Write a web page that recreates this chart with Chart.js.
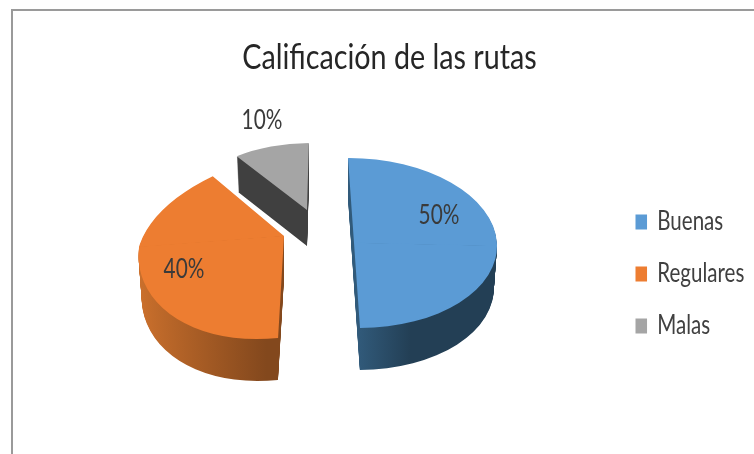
<!DOCTYPE html>
<html><head><meta charset="utf-8">
<style>
html,body{margin:0;padding:0;background:#fff;width:754px;height:454px;overflow:hidden}
#frame{position:absolute;left:11px;top:9px;width:743px;height:445px;border-left:2px solid #9a9a9a;border-top:2px solid #9a9a9a;box-sizing:border-box}
#wrap{position:absolute;left:0;top:0;width:754px;height:454px}
</style>
<script src="https://cdn.jsdelivr.net/npm/chart.js@4"></script>
</head><body>
<div id="frame"></div>
<div id="wrap"><canvas id="c" width="754" height="454"></canvas></div>
<script>
const titleText = "Calificación de las rutas";
const categories = ["Buenas", "Regulares", "Malas"];
const values = [50, 40, 10];
const sliceColors = ["#5b9bd5", "#ed7d31", "#a5a5a5"];
const titleScale = 0.82, legendScale = 0.79, labelScale = 0.8;
const legendBoxX = 635.5;
const wallTaper = 0.022;

// Oblique-view settings for each slice (view geometry, not data)
const views = [
  {o:[354,243], u:[143,3],  down:[0,85],    up:[0,-85], depth:42, side:[[0.03,"#315a7a"],[0.4,"#233f55"]], label:[85,-27]},
  {o:[284,236], u:[145,-11],down:[-12,102.5],up:[24,-85], depth:42, side:[[-0.97,"#c96f2c"],[-0.04,"#83481d"]], label:[-100,34]},
  {o:[307,210], u:[122,2],  down:[-7,67],   up:[7,-67],  depth:36, side:[[-1,"#404040"],[0,"#404040"]], label:[-45,-89]}
];

const drawArcAs = (ctx, arc, view, dy, half, fill) => {
  const taper = 1 - wallTaper*dy/view.depth;
  const R = arc.outerRadius, a = taper*view.u[0]/R, b = taper*view.u[1]/R;
  const vec = half === "down" ? view.down : view.up;
  const s = half === "down" ? 1 : -1;
  const c = s*vec[0]/R, d = s*vec[1]/R;
  const ox = view.o[0], oy = view.o[1]+dy;
  ctx.save();
  ctx.transform(a,b,c,d, ox-a*arc.x-c*arc.y, oy-b*arc.x-d*arc.y);
  ctx.beginPath();
  if (half === "down") ctx.rect(arc.x-2*R, arc.y-0.6, 4*R, 2*R);
  else ctx.rect(arc.x-2*R, arc.y-2*R, 4*R, 2*R+0.6);
  ctx.clip();
  const saved = arc.options;
  arc.options = Object.assign(Object.create(saved), {backgroundColor:fill, borderWidth:0, offset:0, spacing:0});
  arc.draw(ctx);
  arc.options = saved;
  ctx.restore();
};

const obliquePie = {
  id:"obliquePie",
  afterLayout(chart){
    const title = chart.titleBlock, legend = chart.legend;
    if (!title.__wrapped) {
      const drawTitle = title.draw, drawLegend = legend.draw;
      title.draw = function(){
        const ctx = chart.ctx, mid = (title.left+title.right)/2;
        ctx.save();
        ctx.translate(mid,0); ctx.scale(titleScale,1); ctx.translate(-mid,0);
        drawTitle.apply(title,arguments);
        ctx.restore();
      };
      legend.draw = function(){
        const ctx = chart.ctx, x0 = legend.legendHitBoxes[0].left;
        ctx.save();
        ctx.translate(legendBoxX,0); ctx.scale(legendScale,1); ctx.translate(-x0,0);
        drawLegend.apply(legend,arguments);
        ctx.restore();
      };
      title.__wrapped = true;
    }
  },
  beforeDatasetDraw(chart, args){
    const ctx = chart.ctx, arcs = args.meta.data;
    [2,1,0].forEach(i => {
      const arc = arcs[i], v = views[i], R = arc.outerRadius;
      const g = ctx.createLinearGradient(arc.x+v.side[0][0]*R,0,arc.x+v.side[1][0]*R,0);
      v.side.forEach(st => g.addColorStop((st[0]-v.side[0][0])/(v.side[1][0]-v.side[0][0]), st[1]));
      for (let t=v.depth; t>=1; t--) {
        drawArcAs(ctx,arc,v,t,"up",g);
        drawArcAs(ctx,arc,v,t,"down",g);
      }
      drawArcAs(ctx,arc,v,0,"up",sliceColors[i]);
      drawArcAs(ctx,arc,v,0,"down",sliceColors[i]);
    });
    ctx.save();
    ctx.fillStyle="#3a3a3a";
    ctx.font='26px Lato';
    ctx.textAlign="center"; ctx.textBaseline="middle";
    values.forEach((val,i)=>{
      ctx.save();
      ctx.translate(views[i].o[0]+views[i].label[0], views[i].o[1]+views[i].label[1]);
      ctx.scale(labelScale,1);
      ctx.fillText(val+"%",0,0);
      ctx.restore();
    });
    ctx.restore();
    return false;
  }
};

new Chart(document.getElementById("c"),{
  type:"pie",
  data:{labels:categories,datasets:[{data:values,backgroundColor:sliceColors,borderWidth:0}]},
  plugins:[obliquePie],
  options:{
    responsive:false,animation:false,rotation:-2.4,
    layout:{padding:{left:30,right:5,top:0,bottom:0}},
    plugins:{
      tooltip:{enabled:false},
      title:{display:true,text:titleText,color:"#262626",
        font:{family:'Lato',size:35,weight:"normal"},
        padding:{top:37,bottom:15}},
      legend:{position:"right",fullSize:false,
        labels:{boxWidth:14.6,boxHeight:15,padding:26,color:"#404040",
          font:{family:'Lato',size:26}}}
    }
  }
});
</script>
</body></html>
